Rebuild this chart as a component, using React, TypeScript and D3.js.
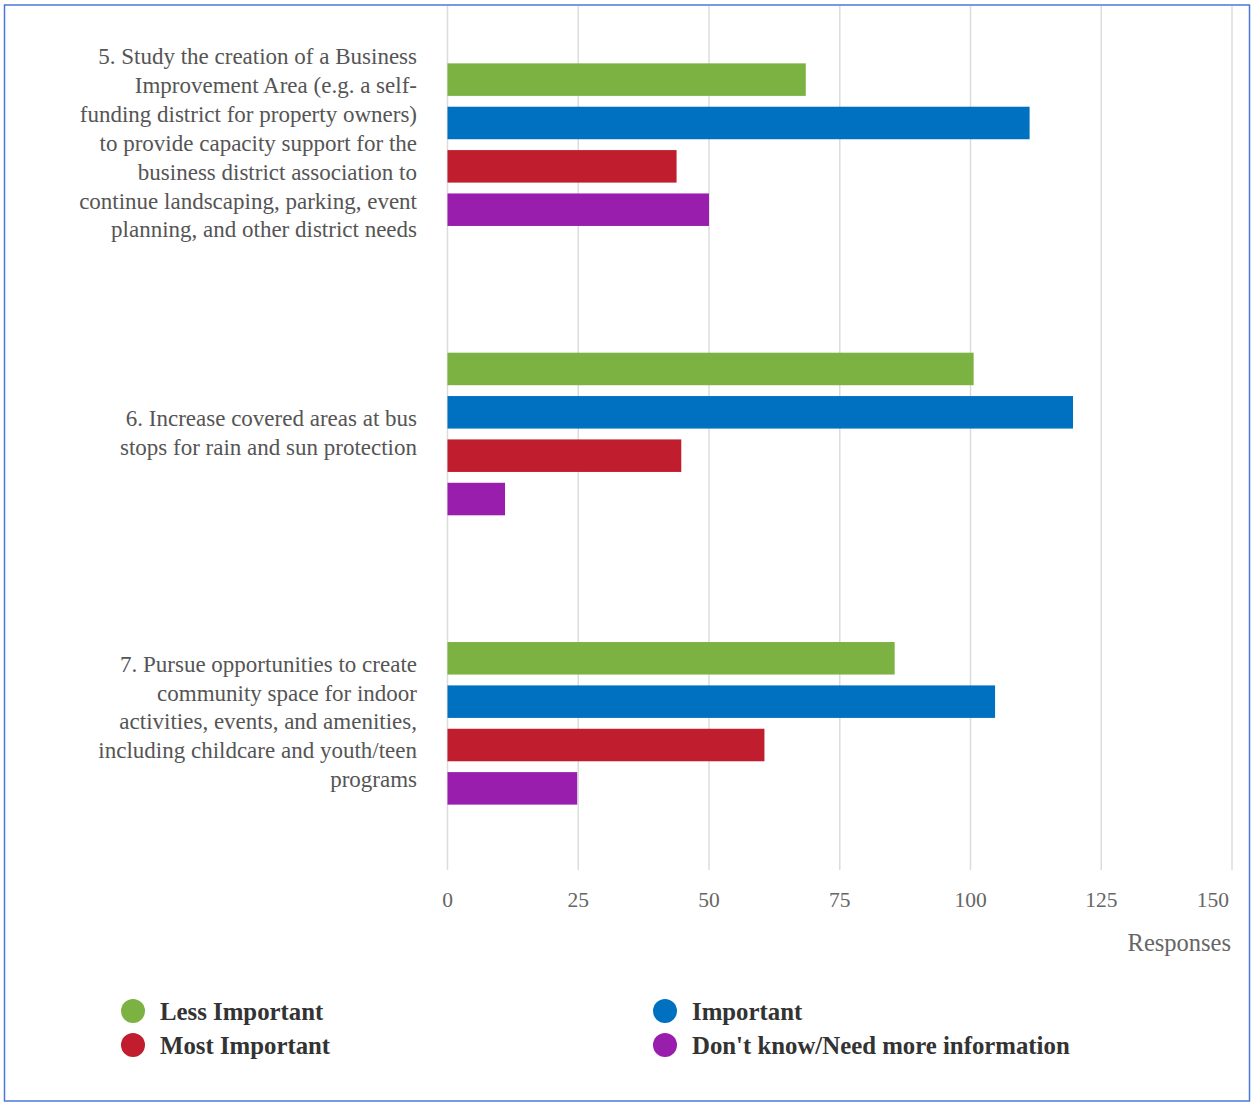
import React from "react";
import * as d3 from "d3";

const categories = ["5", "6", "7"];
const categoryLines: string[][] = [
  [
    "5. Study the creation of a Business",
    "Improvement Area (e.g. a self-",
    "funding district for property owners)",
    "to provide capacity support for the",
    "business district association to",
    "continue landscaping, parking, event",
    "planning, and other district needs",
  ],
  ["6. Increase covered areas at bus", "stops for rain and sun protection"],
  [
    "7. Pursue opportunities to create",
    "community space for indoor",
    "activities, events, and amenities,",
    "including childcare and youth/teen",
    "programs",
  ],
];
const seriesNames = ["Less Important", "Important", "Most Important", "Don't know/Need more information"];
const seriesColors = ["#7bb241", "#0071c1", "#c01e2e", "#9a1eae"];
const lessImportant = [68.5, 100.6, 85.5];
const important = [111.3, 119.6, 104.7];
const mostImportant = [43.8, 44.7, 60.6];
const dontKnow = [50, 11, 24.8];
const xTicks = [0, 25, 50, 75, 100, 125, 150];
const xTitle = "Responses";

export default function App() {
  const W = 1252;
  const H = 1103;
  const x = d3.scaleLinear().domain([0, 150]).range([447.5, 1232]);
  const y = d3.scaleBand<string>().domain(categories).range([0, 868]);
  const values = [lessImportant, important, mostImportant, dontKnow];
  const sub = d3
    .scaleBand<number>()
    .domain([0, 1, 2, 3])
    .range([-81.3, 81.3])
    .paddingInner(0.25)
    .paddingOuter(0);
  const labelFont = "'Liberation Serif', 'Times New Roman', serif";
  const lineH = 28.9;

  return (
    <svg
      width={W}
      height={H}
      style={{ position: "absolute", left: 0, top: 0, background: "#fff" }}
      fontFamily={labelFont}
    >
      <rect x={0} y={0} width={W} height={H} fill="#fff" />
      <rect x={4.5} y={5} width={1245} height={1096} fill="none" stroke="#4a78d8" strokeWidth={1.5} />
      {xTicks.map((t) => (
        <line key={"g" + t} x1={x(t)} x2={x(t)} y1={6} y2={870} stroke="#dcdcdc" strokeWidth={1.5} />
      ))}
      {categories.map((c, ci) => {
        const cy = (y(c) ?? 0) + y.bandwidth() / 2;
        return (
          <g key={c}>
            {values.map((vals, si) => (
              <rect
                key={si}
                x={x(0)}
                y={cy + (sub(si) ?? 0)}
                width={x(vals[ci]) - x(0)}
                height={sub.bandwidth()}
                fill={seriesColors[si]}
              />
            ))}
            {categoryLines[ci].map((ln, li) => (
              <text
                key={li}
                x={417}
                y={cy - 1.5 + (li - (categoryLines[ci].length - 1) / 2) * lineH}
                dy="0.33em"
                textAnchor="end"
                fontSize={23}
                fill="#555"
              >
                {ln}
              </text>
            ))}
          </g>
        );
      })}
      {xTicks.map((t, i) => (
        <text
          key={"t" + t}
          x={i === xTicks.length - 1 ? 1229 : x(t)}
          y={899}
          dy="0.35em"
          textAnchor={i === xTicks.length - 1 ? "end" : "middle"}
          fontSize={21.5}
          fill="#666"
        >
          {t}
        </text>
      ))}
      <text x={1231} y={942} dy="0.35em" textAnchor="end" fontSize={24.5} fill="#666">
        {xTitle}
      </text>
      {seriesNames.map((n, i) => {
        const col = i % 2;
        const row = Math.floor(i / 2);
        const lx = col === 0 ? 133 : 665;
        const ly = 1011 + row * 34;
        return (
          <g key={n}>
            <circle cx={lx} cy={ly} r={12} fill={seriesColors[i]} />
            <text x={lx + 27} y={ly} dy="0.35em" fontSize={24.8} fontWeight="bold" fill="#333">
              {n}
            </text>
          </g>
        );
      })}
    </svg>
  );
}
